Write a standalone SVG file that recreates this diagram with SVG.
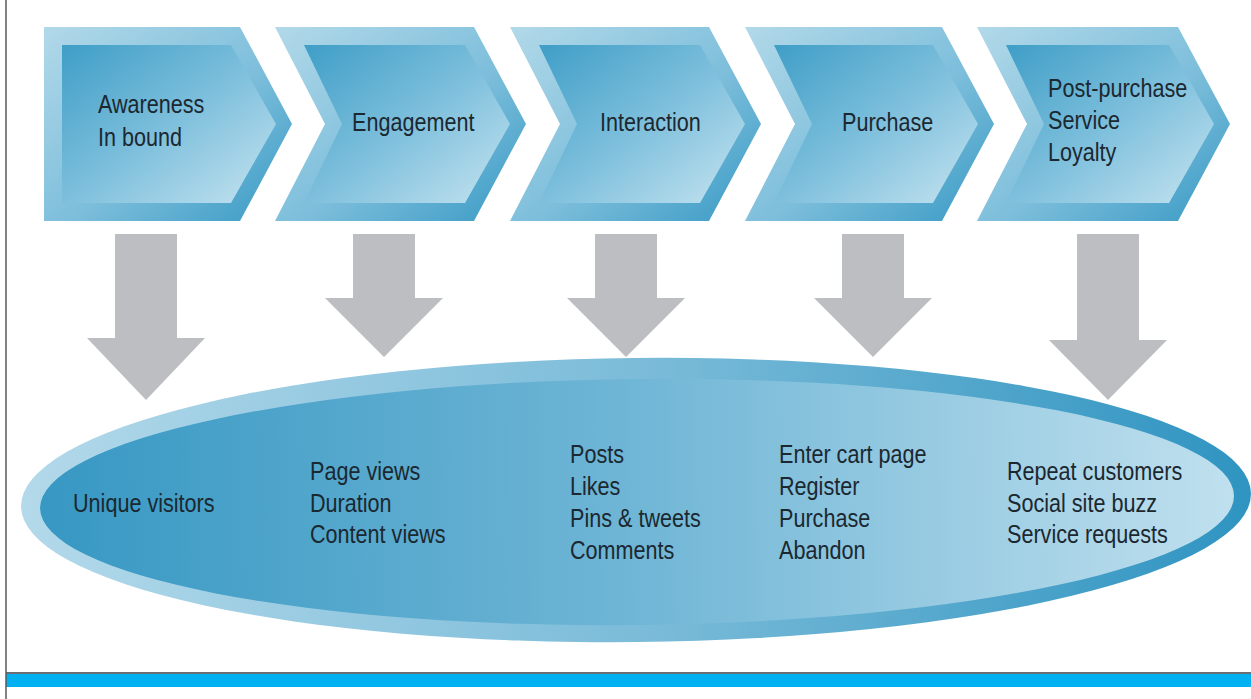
<svg xmlns="http://www.w3.org/2000/svg" width="1251" height="699" viewBox="0 0 1251 699">
<defs>
<linearGradient id="chevOuter" x1="0" y1="0" x2="1" y2="1">
<stop offset="0" stop-color="#b2d9e9"/>
<stop offset="0.55" stop-color="#7dbedb"/>
<stop offset="1" stop-color="#3799c4"/>
</linearGradient>
<linearGradient id="chevInner" x1="0" y1="0" x2="1" y2="1">
<stop offset="0" stop-color="#3f9ec7"/>
<stop offset="0.5" stop-color="#7dbfdc"/>
<stop offset="1" stop-color="#c6e4f0"/>
</linearGradient>
<linearGradient id="ringGrad" x1="0" y1="0" x2="1" y2="0">
<stop offset="0" stop-color="#b3d9ea"/>
<stop offset="0.5" stop-color="#7cbcd9"/>
<stop offset="1" stop-color="#2f94c1"/>
</linearGradient>
<linearGradient id="ovalGrad" x1="0" y1="0" x2="1" y2="0">
<stop offset="0" stop-color="#3798c3"/>
<stop offset="0.5" stop-color="#70b6d6"/>
<stop offset="1" stop-color="#c0e0ee"/>
</linearGradient>
<style>
.outer{fill:url(#chevOuter)}
.inner{fill:url(#chevInner)}
.arrow{fill:#bdbec1}
.lbl{font-family:"Liberation Sans",Arial,sans-serif;font-size:21.6px;fill:#1b2830}
</style>
</defs>
<rect x="0" y="0" width="1251" height="699" fill="#ffffff"/>

<g id="chevron-awareness">
<polygon class="outer" points="44,27 240,27 292,124 240,221 44,221"/>
<polygon class="inner" points="62,45 231,45 276,124 231,203 62,203"/>
<text class="lbl" transform="matrix(1 0 0 1.2 98 113)">Awareness</text>
<text class="lbl" transform="matrix(1 0 0 1.2 98 146)">In bound</text>
</g>
<g id="chevron-engagement">
<polygon class="outer" points="275,27 474,27 526,124 474,221 275,221 325,124"/>
<polygon class="inner" points="304,45 465,45 510,124 465,203 304,203 342,124"/>
<text class="lbl" transform="matrix(1 0 0 1.2 352 131)">Engagement</text>
</g>
<g id="chevron-interaction">
<polygon class="outer" points="510,27 709,27 761,124 709,221 510,221 560,124"/>
<polygon class="inner" points="539,45 700,45 745,124 700,203 539,203 577,124"/>
<text class="lbl" transform="matrix(1 0 0 1.2 600 131)">Interaction</text>
</g>
<g id="chevron-purchase">
<polygon class="outer" points="745,27 942,27 994,124 942,221 745,221 795,124"/>
<polygon class="inner" points="774,45 933,45 978,124 933,203 774,203 812,124"/>
<text class="lbl" transform="matrix(1 0 0 1.2 842 131)">Purchase</text>
</g>
<g id="chevron-postpurchase">
<polygon class="outer" points="977,27 1178,27 1230,124 1178,221 977,221 1027,124"/>
<polygon class="inner" points="1006,45 1169,45 1214,124 1169,203 1006,203 1044,124"/>
<text class="lbl" transform="matrix(1 0 0 1.2 1048 97)">Post-purchase</text>
<text class="lbl" transform="matrix(1 0 0 1.2 1048 129)">Service</text>
<text class="lbl" transform="matrix(1 0 0 1.2 1048 161)">Loyalty</text>
</g>

<g id="metrics-oval">
<g transform="rotate(-0.6 636 500)">
<ellipse cx="636" cy="500" rx="615" ry="142" fill="url(#ringGrad)"/>
<ellipse cx="637" cy="502" rx="597" ry="123" fill="url(#ovalGrad)"/>
</g>
</g>

<g id="connectors">
<polygon class="arrow" points="115,234 177,234 177,338 205,338 146,400 87,338 115,338"/>
<polygon class="arrow" points="353,234 415,234 415,298 443,298 384,357 325,298 353,298"/>
<polygon class="arrow" points="595,234 657,234 657,298 685,298 626,357 567,298 595,298"/>
<polygon class="arrow" points="842,234 904,234 904,298 932,298 873,357 814,298 842,298"/>
<polygon class="arrow" points="1077,234 1139,234 1139,340 1167,340 1108,400 1049,340 1077,340"/>
</g>

<g id="metrics-awareness">
<text class="lbl" transform="matrix(1 0 0 1.2 73 512)">Unique visitors</text>
</g>
<g id="metrics-engagement">
<text class="lbl" transform="matrix(1 0 0 1.2 310 480)">Page views</text>
<text class="lbl" transform="matrix(1 0 0 1.2 310 512)">Duration</text>
<text class="lbl" transform="matrix(1 0 0 1.2 310 543)">Content views</text>
</g>
<g id="metrics-interaction">
<text class="lbl" transform="matrix(1 0 0 1.2 570 463)">Posts</text>
<text class="lbl" transform="matrix(1 0 0 1.2 570 495)">Likes</text>
<text class="lbl" transform="matrix(1 0 0 1.2 570 527)">Pins &amp; tweets</text>
<text class="lbl" transform="matrix(1 0 0 1.2 570 559)">Comments</text>
</g>
<g id="metrics-purchase">
<text class="lbl" transform="matrix(1 0 0 1.2 779 463)">Enter cart page</text>
<text class="lbl" transform="matrix(1 0 0 1.2 779 495)">Register</text>
<text class="lbl" transform="matrix(1 0 0 1.2 779 527)">Purchase</text>
<text class="lbl" transform="matrix(1 0 0 1.2 779 559)">Abandon</text>
</g>
<g id="metrics-postpurchase">
<text class="lbl" transform="matrix(1 0 0 1.2 1007 480)">Repeat customers</text>
<text class="lbl" transform="matrix(1 0 0 1.2 1007 512)">Social site buzz</text>
<text class="lbl" transform="matrix(1 0 0 1.2 1007 543)">Service requests</text>
</g>

<g id="frame">
<rect x="6" y="674" width="1245" height="13" fill="#00b0f0"/>
<line x1="6" y1="673" x2="1251" y2="673" stroke="#3a3f44" stroke-width="1.5"/>
<line x1="6" y1="0" x2="6" y2="699" stroke="#555a5e" stroke-width="1.5"/>
</g>
</svg>
